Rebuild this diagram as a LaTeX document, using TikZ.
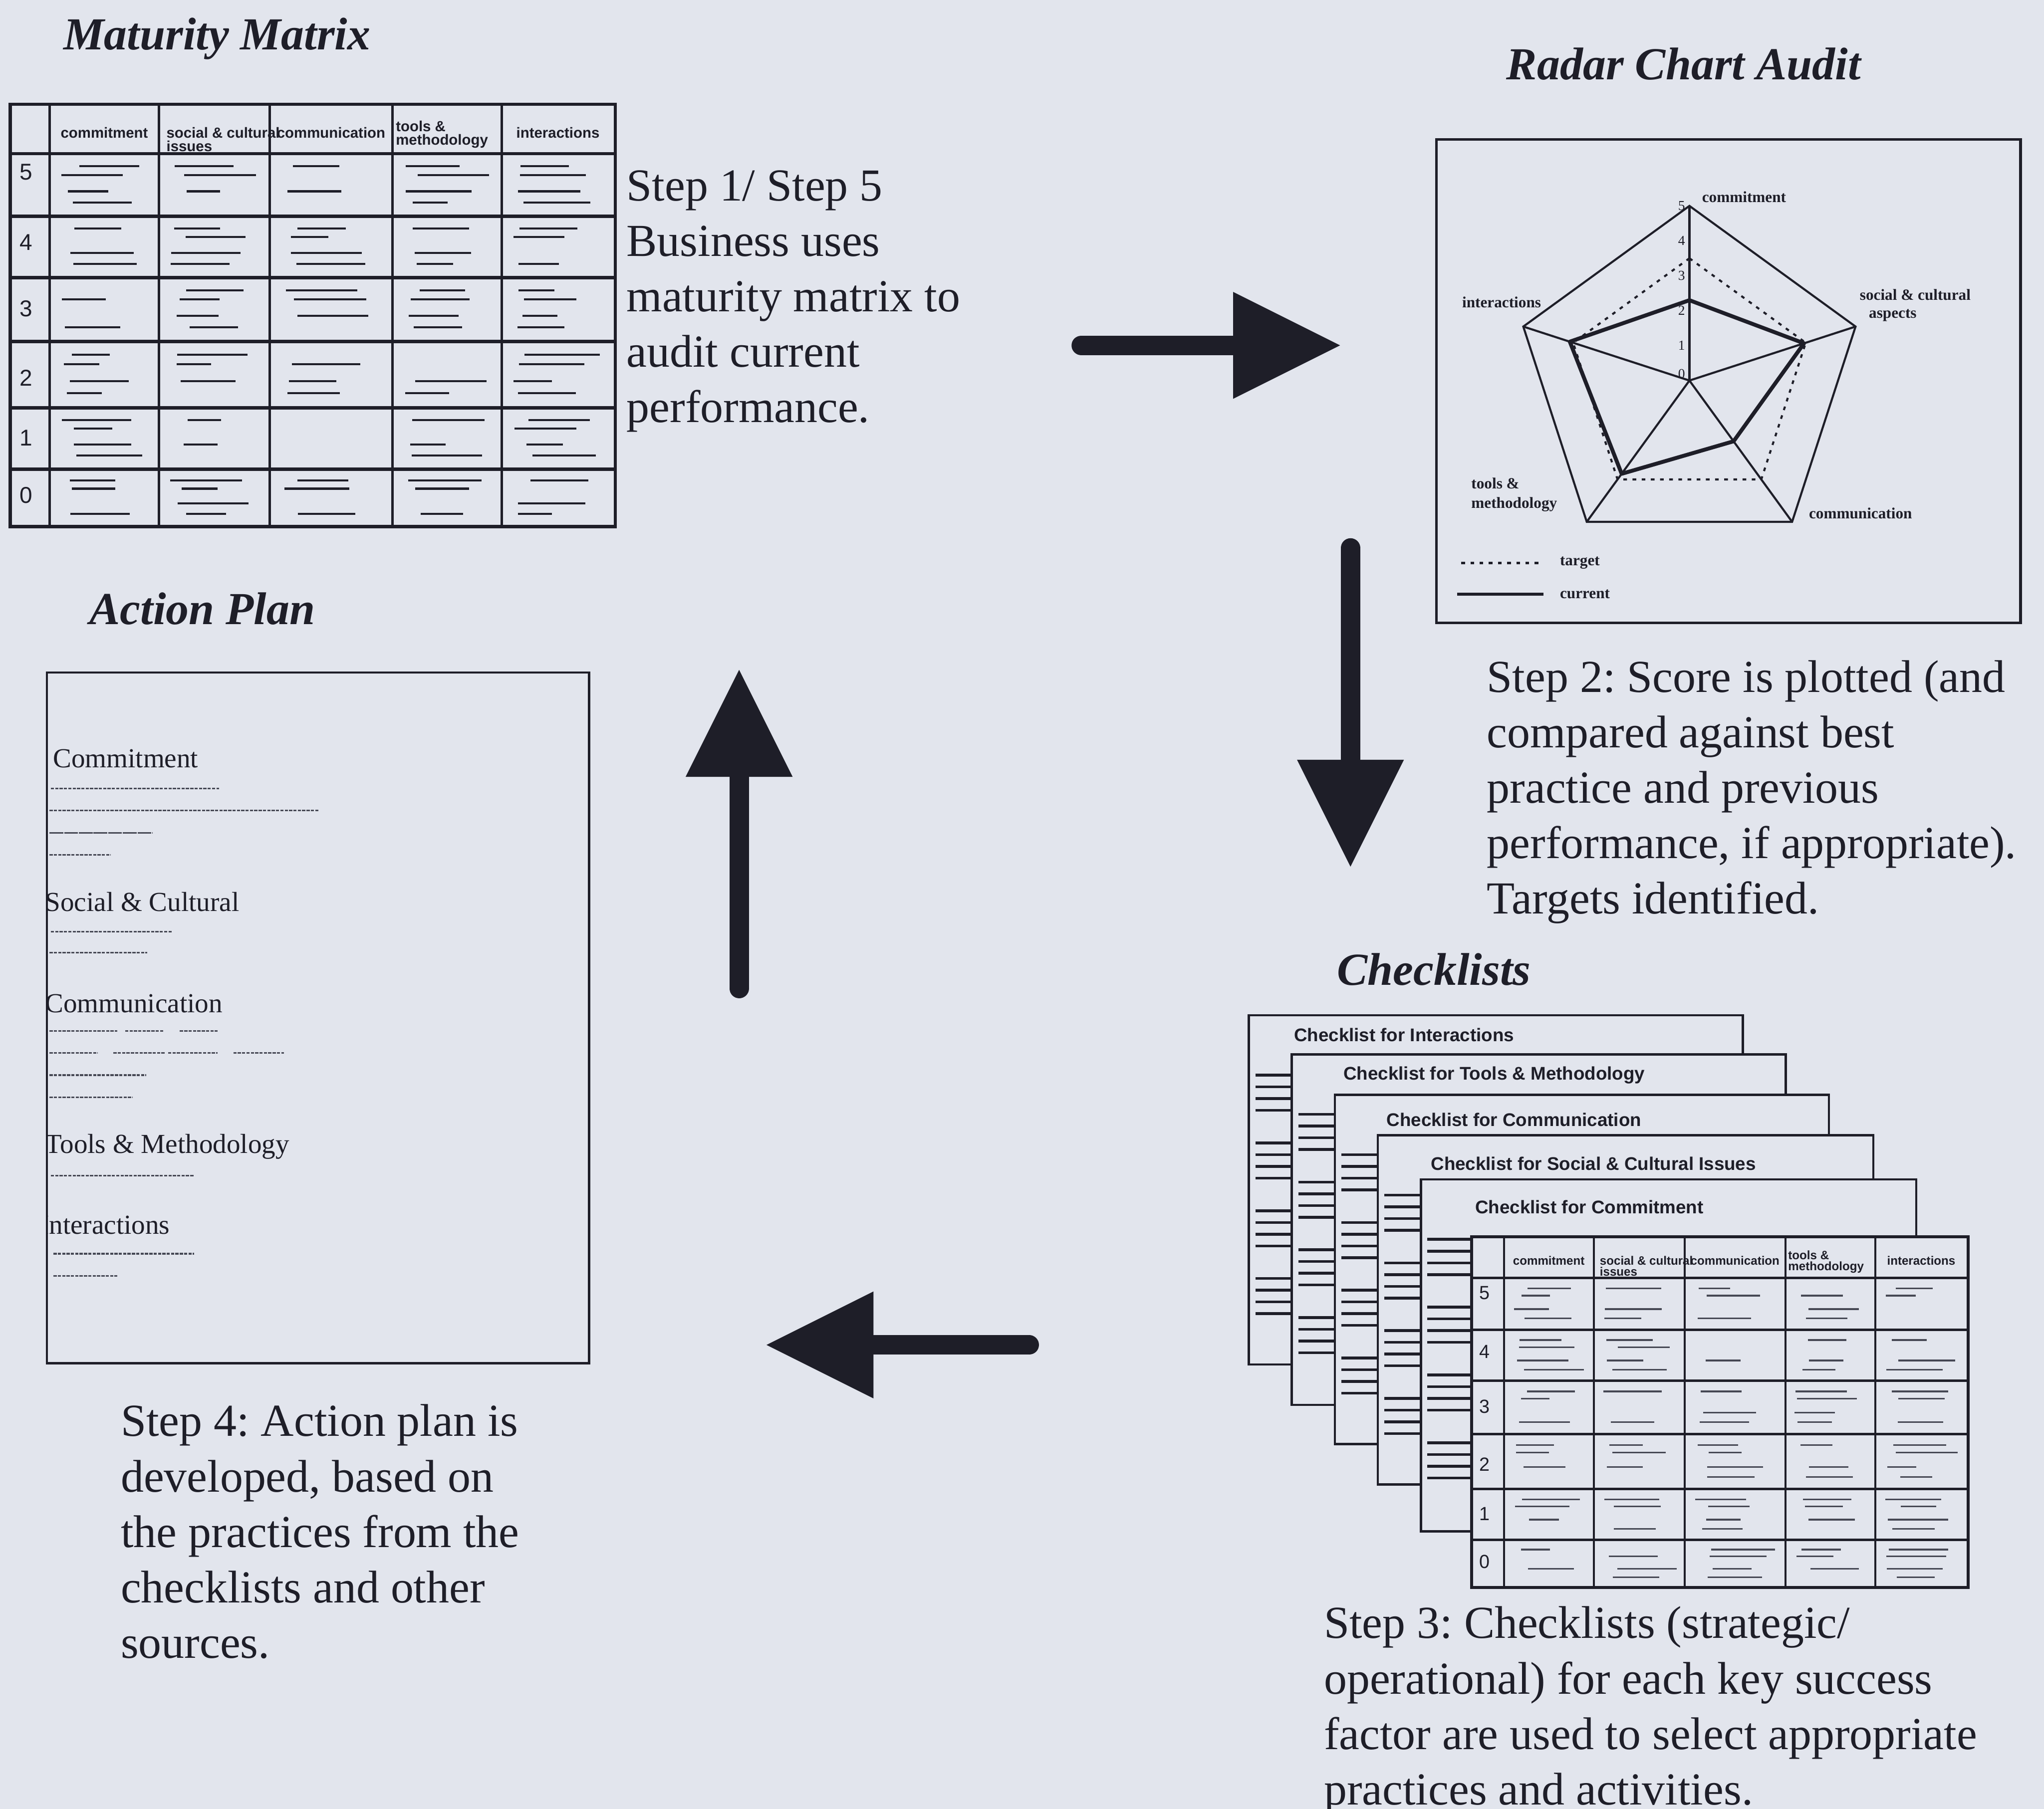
\documentclass[tikz,border=0pt]{standalone}
\usepackage{fontspec}
\setmainfont{Liberation Serif}
\setsansfont{Liberation Sans}
\usetikzlibrary{arrows.meta}
\frenchspacing

\definecolor{paper}{RGB}{226,229,237}
\definecolor{ink}{RGB}{30,30,40}
\definecolor{faint}{RGB}{70,72,84}

% Maturity matrix grid drawn in a 464 x 324 frame; #1 is a name prefix
\newcommand{\matgrid}[1]{%
  \filldraw[gridouter, fill=paper] (0,0) rectangle (464,324);
  \foreach \gx in {30,114,199,293,377} \draw[gridcol] (\gx,0) -- (\gx,324);
  \foreach \gy in {38,86,133,182,233,280} \draw[gridrow] (0,\gy) -- (464,\gy);
  \node[hdr] (#1-h1) at (72,22) {commitment};
  \node[hdr, anchor=north west, align=left] (#1-h2) at (119,17) {social \& cultural\\issues};
  \node[hdr] (#1-h3) at (246,22) {communication};
  \node[hdr, anchor=north west, align=left] (#1-h4) at (295,12) {tools \&\\methodology};
  \node[hdr] (#1-h5) at (420,22) {interactions};
  \foreach \n/\ry in {5/52,4/106,3/157,2/210,1/256,0/300}
    \node[rownum] (#1-r\n) at (12,\ry) {\n};
  \foreach \xl/\xr in {30/114,114/199,199/293,293/377,377/464}{
    \foreach \yt/\yb in {38/86,86/133,133/182,182/233,233/280,280/324}{
      \foreach \f in {0.2,0.34,0.6,0.78}{
        \pgfmathsetmacro\sw{(\xr-\xl)*(0.3+0.38*rnd)}
        \pgfmathsetmacro\sx{\xl+(\xr-\xl)*(0.1+0.18*rnd)}
        \pgfmathsetmacro\sy{\yt+(\yb-\yt)*\f}
        \pgfmathtruncatemacro\keep{rnd<0.78 ? 1 : 0}
        \ifnum\keep=1 \draw[scrib] (\sx,\sy) -- ++(\sw,0);\fi
      }}}%
}

\begin{document}
\begin{tikzpicture}[x=0.01cm, y=-0.01cm,
  title/.style={font=\fontsize{10}{12}\selectfont\bfseries\itshape, text=ink, inner sep=0pt, anchor=base west},
  steptext/.style={font=\fontsize{10}{12.1}\selectfont, text=ink, inner sep=0pt, anchor=north west, align=left},
  hdr/.style={font=\sffamily\bfseries\fontsize{3.2}{2.9}\selectfont, text=ink, inner sep=0pt},
  rownum/.style={font=\sffamily\fontsize{5}{6}\selectfont, text=ink, inner sep=0pt},
  gridouter/.style={draw=ink, line width=0.75pt},
  gridcol/.style={draw=ink, line width=0.5pt},
  gridrow/.style={draw=ink, line width=0.7pt},
  scrib/.style={draw=ink, line width=0.45pt},
  radlbl/.style={font=\bfseries\fontsize{3.4}{3.6}\selectfont, text=ink, inner sep=0pt, anchor=west},
  ticklbl/.style={font=\fontsize{3}{3}\selectfont, text=ink, inner sep=0pt},
  radline/.style={draw=ink, line width=0.45pt},
  page/.style={draw=ink, line width=0.5pt, fill=paper},
  stripline/.style={draw=ink, line width=0.6pt},
  cltitle/.style={font=\sffamily\bfseries\fontsize{4.0}{5}\selectfont, text=ink, inner sep=0pt, anchor=west},
  aptext/.style={font=\fontsize{6}{7}\selectfont, text=ink, inner sep=0pt, anchor=west},
  apline/.style={draw=faint, line width=0.35pt, dash pattern=on 0.7pt off 0.25pt},
  blockarrow/.style={draw=ink, line width=0.15cm, line cap=round,
    -{Triangle[length=0.82cm, width=0.82cm, line width=0pt]}}
]
\fill[paper] (0,0) rectangle (1568,1388);
\useasboundingbox (0,0) rectangle (1568,1388);

% ---------- titles ----------
\node[title] (tmm) at (48,38) {Maturity Matrix};
\node[title] (trc) at (1155,61) {Radar Chart Audit};
\node[title] (tap) at (68,479) {Action Plan};
\node[title] (tcl) at (1025,756) {Checklists};

% ---------- maturity matrix ----------
\pgfmathsetseed{11}
\begin{scope}[shift={(8,80)}]
  \matgrid{mm}
\end{scope}

\node[steptext] (step1) at (480,130) {Step 1/ Step 5\\Business uses\\maturity matrix to\\audit current\\performance.};

% ---------- radar chart ----------
\draw[draw=ink, line width=0.6pt] (1102,107) rectangle (1550,478);
\begin{scope}[shift={(1296,292)}, yscale=-1]
  \coordinate (hub) at (0,0);
  \draw[radline] (90:134) -- (18:134) -- (-54:134) -- (-126:134) -- (162:134) -- cycle;
  \foreach \a in {90,18,-54,-126,162} \draw[radline] (hub) -- (\a:134);
  \draw[draw=ink, line width=0.45pt, dash pattern=on 0.8pt off 1.2pt]
    (90:{0.7*134}) -- (18:{0.7*134}) -- (-54:{0.7*134}) -- (-126:{0.7*134}) -- (162:{0.7*134}) -- cycle;
  \draw[draw=ink, line width=0.85pt, line join=round]
    (90:{0.46*134}) -- (18:{0.69*134}) -- (-54:{0.43*134}) -- (-126:{0.66*134}) -- (162:{0.72*134}) -- cycle;
  \foreach \k in {1,...,5} \node[ticklbl] (tick\k) at (-6,{\k*134/5}) {\k};
  \node[ticklbl] (tick0) at (-6,5) {0};
\end{scope}
\node[radlbl] (rc1) at (1305,151) {commitment};
\node[radlbl] (rc2) at (1426,226) {social \& cultural};
\node[radlbl] (rc2b) at (1433,242) {aspects};
\node[radlbl] (rc3) at (1387,394) {communication};
\node[radlbl] (rc4) at (1128,371) {tools \&};
\node[radlbl] (rc4b) at (1128,387) {methodology};
\node[radlbl] (rc5) at (1121,232) {interactions};
\coordinate (lgt1) at (1121,432); \coordinate (lgt2) at (1183,432);
\coordinate (lgc1) at (1118,456); \coordinate (lgc2) at (1184,456);
\draw[draw=ink, line width=0.45pt, dash pattern=on 0.8pt off 1.2pt] (lgt1) -- (lgt2);
\draw[draw=ink, line width=0.6pt] (lgc1) -- (lgc2);
\node[radlbl] (lgtarget) at (1196,432) {target};
\node[radlbl] (lgcurrent) at (1196,456) {current};

\node[steptext] (step2) at (1140,506) {Step 2: Score is plotted (and\\compared against best\\practice and previous\\performance, if appropriate).\\Targets identified.};

% ---------- checklists ----------
\foreach \L/\T/\Rr/\B/\tx/\ty/\ttl [count=\i] in {
  958/779/1337/1047/992/794/{Checklist for Interactions},
  991/809/1370/1078/1030/825/{Checklist for Tools \& Methodology},
  1024/840/1403/1108/1063/859/{Checklist for Communication},
  1057/871/1437/1139/1097/893/{Checklist for Social \& Cultural Issues},
  1090/905/1470/1175/1131/926/{Checklist for Commitment}}{
  \filldraw[page] (\L,\T) rectangle (\Rr,\B);
  \foreach \g in {0,1,2,3}{
    \foreach \k in {0,1,2,3}{
      \draw[stripline] (\L+5,\T+46+\g*52+\k*9) -- ++(34,0);
    }}
  \node[cltitle] (cl\i) at (\tx,\ty) {\ttl};
}
\pgfmathsetseed{5}
\begin{scope}[shift={(1129,949)}, xscale=0.821, yscale=0.831, transform shape,
  gridouter/.style={draw=ink, line width=0.65pt},
  gridcol/.style={draw=ink, line width=0.45pt},
  gridrow/.style={draw=ink, line width=0.55pt},
  scrib/.style={draw=faint, line width=0.35pt}]
  \matgrid{ct}
\end{scope}

\node[steptext] (step3) at (1015,1232) {Step 3: Checklists (strategic/\\operational) for each key success\\factor are used to select appropriate\\practices and activities.};

% ---------- action plan ----------
\begin{scope}
  \clip (36.5,517) rectangle (451.5,1045.5);
  \node[aptext] (apc1) at (40,582) {Commitment};
  \node[aptext] (apc2) at (34,692) {Social \& Cultural};
  \node[aptext] (apc3) at (34,770) {Communication};
  \node[aptext] (apc4) at (34,880) {Tools \& Methodology};
  \node[aptext] (apc5) at (30,940) {Interactions};
\end{scope}
\draw[apline] (39,605) -- (168,605);
\draw[apline] (38,622) -- (245,622);
\draw[apline, dash pattern=on 3pt off 0.2pt] (38,639) -- (117,639);
\draw[apline] (38,656) -- (85,656);
\draw[apline] (39,715) -- (132,715);
\draw[apline] (38,731) -- (113,731);
\draw[apline] (38,791) -- (90,791);
\draw[apline] (96,791) -- (126,791);
\draw[apline] (138,791) -- (167,791);
\draw[apline] (38,808) -- (75,808);
\draw[apline] (87,808) -- (127,808);
\draw[apline] (129,808) -- (167,808);
\draw[apline] (179,808) -- (218,808);
\draw[apline] (38,825) -- (112,825);
\draw[apline] (38,842) -- (102,842);
\draw[apline] (39,902) -- (149,902);
\draw[apline] (41,962) -- (149,962);
\draw[apline] (41,979) -- (90,979);
\draw[draw=ink, line width=0.5pt] (36,516) rectangle (452,1046);

\node[steptext] (step4) at (92,1077) {Step 4: Action plan is\\developed, based on\\the practices from the\\checklists and other\\sources.};

% ---------- cycle arrows ----------
\coordinate (a1s) at (829.5,265);  \coordinate (a1e) at (1028,265);
\coordinate (a2s) at (1036,420.5); \coordinate (a2e) at (1036,665);
\coordinate (a3s) at (789.5,1032); \coordinate (a3e) at (588,1032);
\coordinate (a4s) at (567,758.5);  \coordinate (a4e) at (567,514);
\draw[blockarrow] (a1s) -- (a1e);
\draw[blockarrow] (a2s) -- (a2e);
\draw[blockarrow] (a3s) -- (a3e);
\draw[blockarrow] (a4s) -- (a4e);
\end{tikzpicture}
\end{document}
